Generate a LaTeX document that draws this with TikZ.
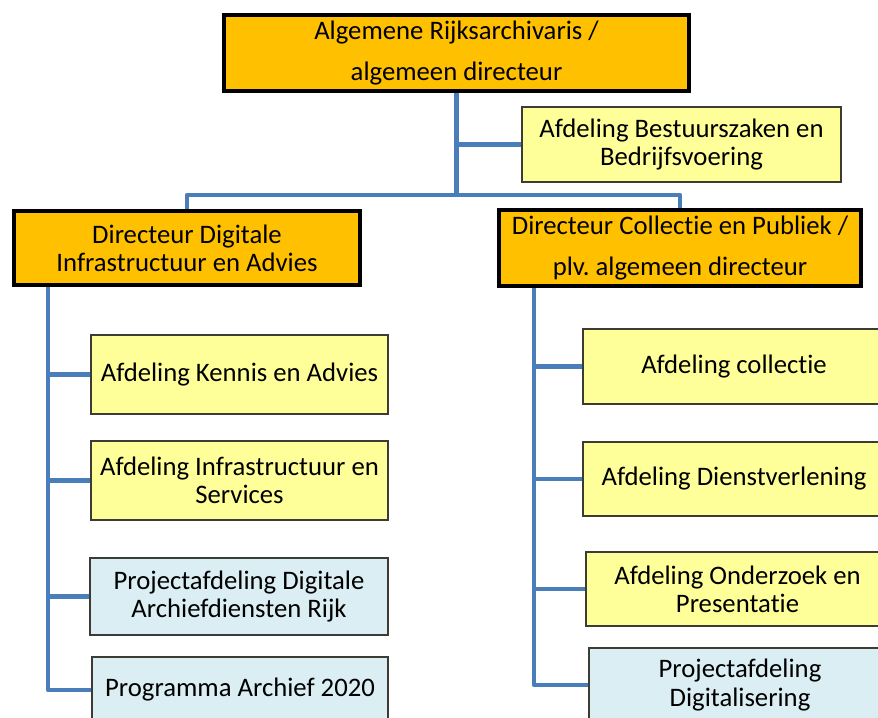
\documentclass[tikz,border=0pt]{standalone}
\usepackage{fontspec}
\setmainfont{Carlito}[Ligatures=NoCommon]
\usetikzlibrary{positioning, calc, backgrounds}
\definecolor{leadcolor}{RGB}{255, 192, 0}
\definecolor{deptcolor}{RGB}{255, 255, 153}
\definecolor{projcolor}{RGB}{218, 238, 243}
\definecolor{linecolor}{RGB}{74, 126, 187}
\definecolor{edgecolor}{RGB}{60, 60, 50}

\begin{document}
\begin{tikzpicture}[
    lead/.style={rectangle, draw=black, line width=2.3pt, fill=leadcolor, align=center, font=\fontsize{15.2}{16}\selectfont},
    dept/.style={rectangle, draw=edgecolor, line width=0.6pt, fill=deptcolor, align=center, font=\fontsize{15.2}{16}\selectfont},
    proj/.style={dept, fill=projcolor},
    conn/.style={draw=linecolor, line width=2.4pt, line join=round},
]
\useasboundingbox (0,0) rectangle (17.56,-14.36);
\clip (0,0) rectangle (17.56,-14.36);

% ============ Leiding ============
\node[lead, minimum width=9.30cm, minimum height=1.44cm] (top) at (9.13,-1.06) {Algemene Rijksarchivaris /\\[7pt]algemeen directeur};
\node[dept, minimum width=6.38cm, minimum height=1.50cm] (best) at (13.63,-2.89) {Afdeling Bestuurszaken en\\Bedrijfsvoering};

% ============ Directeuren ============
\node[lead, minimum width=6.92cm, minimum height=1.48cm] (dirDIA) at (3.74,-4.96) {Directeur Digitale\\Infrastructuur en Advies};
\node[lead, minimum width=7.24cm, minimum height=1.48cm] (dirCP) at (13.60,-4.96) {Directeur Collectie en Publiek /\\[7pt]plv.\ algemeen directeur};

% ============ Afdelingen links ============
\node[dept, minimum width=5.94cm, minimum height=1.58cm] (kennis) at (4.79,-7.49) {Afdeling Kennis en Advies};
\node[dept, minimum width=5.94cm, minimum height=1.58cm] (infra) at (4.79,-9.61) {Afdeling Infrastructuur en\\Services};
\node[proj, minimum width=5.96cm, minimum height=1.54cm] (pdar) at (4.78,-11.93) {Projectafdeling Digitale\\Archiefdiensten Rijk};
\node[proj, minimum width=5.92cm, minimum height=1.32cm] (archief) at (4.80,-13.80) {Programma Archief 2020};

% ============ Afdelingen rechts ============
\node[dept, minimum width=6.04cm, minimum height=1.50cm] (collectie) at (14.68,-7.33) {Afdeling collectie};
\node[dept, minimum width=6.04cm, minimum height=1.48cm] (dienst) at (14.68,-9.58) {Afdeling Dienstverlening};
\node[dept, minimum width=6.06cm, minimum height=1.48cm] (onderzoek) at (14.75,-11.78) {Afdeling Onderzoek en\\Presentatie};
\node[proj, minimum width=6.04cm, minimum height=1.48cm] (digit) at (14.80,-13.70) {Projectafdeling\\Digitalisering};

% ============ Lijnen ============
\coordinate (hub) at (9.13,-3.90);
\coordinate (trunkDIA) at (0.96,0);
\coordinate (trunkCP) at (10.68,0);

\begin{pgfonlayer}{background}
    % bovenste deel
    \draw[conn] (top.south) -- (hub);
    \draw[conn] (top.south) |- (best.west);
    \draw[conn] (dirDIA.north) |- (hub) -| (dirCP.north);

    % links
    \draw[conn] (dirDIA.south -| trunkDIA) |- (archief.west);
    \draw[conn] (kennis.west -| trunkDIA) -- (kennis.west);
    \draw[conn] (infra.west -| trunkDIA) -- (infra.west);
    \draw[conn] (pdar.west -| trunkDIA) -- (pdar.west);

    % rechts
    \draw[conn] (dirCP.south -| trunkCP) |- (digit.west);
    \draw[conn] (collectie.west -| trunkCP) -- (collectie.west);
    \draw[conn] (dienst.west -| trunkCP) -- (dienst.west);
    \draw[conn] (onderzoek.west -| trunkCP) -- (onderzoek.west);
\end{pgfonlayer}

\end{tikzpicture}
\end{document}
